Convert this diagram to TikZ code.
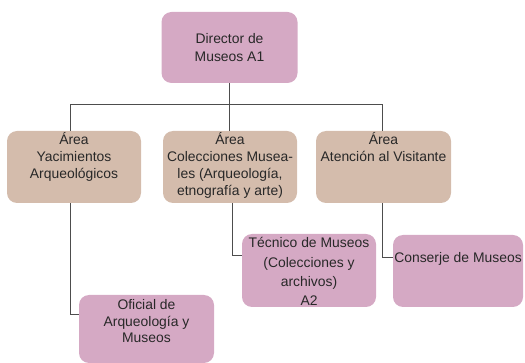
\documentclass[tikz,border=0pt]{standalone}
\usepackage{fontspec}
\setmainfont{Liberation Sans}
\definecolor{dirpink}{RGB}{213,169,196}
\definecolor{areatan}{RGB}{212,188,172}
\definecolor{linegray}{RGB}{77,77,77}
\definecolor{textgray}{RGB}{40,40,40}

\begin{document}
\begin{tikzpicture}[
    every node/.style={rectangle, rounded corners=10pt, inner sep=0pt},
    pinkbox/.style={fill=dirpink},
    tanbox/.style={fill=areatan, minimum width=134pt, minimum height=72pt},
    boxtext/.style={draw=none, fill=none, align=center, anchor=base, text=textgray,
      font=\fontsize{13.9pt}{16.7pt}\selectfont},
    conn/.style={draw=linegray, line width=0.8pt}
  ]
  \useasboundingbox (0pt, 0pt) rectangle (525pt, -363pt);
  % boxes
  \node (dir) [pinkbox, minimum width=136pt, minimum height=71pt] at (229.5pt, -47.5pt) {};
  \node (yac) [tanbox] at (74pt, -167pt) {};
  \node (col) [tanbox] at (230pt, -167pt) {};
  \node (vis) [tanbox, minimum width=135pt] at (383.5pt, -167pt) {};
  \node (tec) [pinkbox, minimum width=134pt, minimum height=73pt] at (309pt, -270.5pt) {};
  \node (con) [pinkbox, minimum width=130pt, minimum height=72pt] at (458pt, -271pt) {};
  \node (ofi) [pinkbox, minimum width=135pt, minimum height=68pt] at (146.5pt, -329pt) {};
  % texts (base = last line)
  \node (dir_label) [boxtext, font=\fontsize{13.9pt}{18pt}\selectfont] at (229.5pt, -62pt) {Director de\\Museos A1};
  \node (yac_label) [boxtext] at (74pt, -178.4pt) {Área\\Yacimientos\\Arqueológicos};
  \node (col_label) [boxtext] at (230pt, -195.1pt) {Área\\Colecciones Musea-\\les (Arqueología,\\etnografía y arte)};
  \node (vis_label) [boxtext] at (383.5pt, -161.7pt) {Área\\Atención al Visitante};
  \node (tec_label) [boxtext, font=\fontsize{13.9pt}{19.3pt}\selectfont] at (309pt, -305.9pt) {Técnico de Museos\\(Colecciones y\\archivos)\\A2};
  \node (con_label) [boxtext] at (458pt, -263pt) {Conserje de Museos};
  \node (ofi_label) [boxtext, font=\fontsize{13.9pt}{16.5pt}\selectfont] at (146.5pt, -343pt) {Oficial de\\Arqueología y\\Museos};
  % connectors
  \coordinate (bar) at (0pt, -104pt);
  \draw[conn] (dir.south) -- (dir.south |- col.north);
  \draw[conn] ([xshift=-4pt]yac.north) -- ([xshift=-4pt]yac.north |- bar)
    -- ([xshift=-1.5pt]vis.north |- bar) -- ([xshift=-1.5pt]vis.north);
  \draw[conn] ([xshift=-4pt]yac.south) |- ([yshift=15pt]ofi.west);
  \draw[conn] ([xshift=2pt]col.south) |- ([yshift=15.5pt]tec.west);
  \draw[conn] ([xshift=-1.5pt]vis.south) |- ([yshift=14pt]con.west);
\end{tikzpicture}
\end{document}
